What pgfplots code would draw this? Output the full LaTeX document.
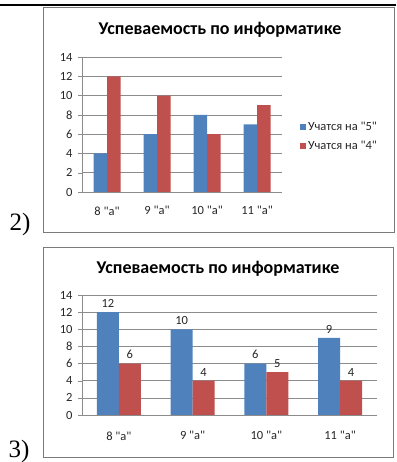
\documentclass[border=0pt]{standalone}
\usepackage{fontspec}
\setmainfont{Carlito}
\newfontfamily\calibri{Carlito}
\newfontfamily\timesfont{Liberation Serif}
\usepackage{pgfplots}
\pgfplotsset{compat=1.18}
\definecolor{xlblue}{HTML}{4F81BD}
\definecolor{xlred}{HTML}{C0504D}
\definecolor{gridc}{HTML}{8C8C8C}
\definecolor{framec}{HTML}{7A7A7A}

\pgfplotsset{xlstyle/.style={
  scale only axis,
  ymin=0, ymax=14, ytick={0,2,...,14},
  xmin=-0.5, xmax=3.5,
  xtick={0,1,2,3},
  xticklabels={{8 "а"},{9 "а"},{10 "а"},{11 "а"}},
  axis x line*=bottom, axis y line*=left,
  axis line style={gridc, -},
  ymajorgrids, grid style={gridc, line width=0.6pt},
  major x tick style={draw=none},
  extra x ticks={-0.5,0.5,1.5,2.5,3.5},
  extra x tick labels={},
  extra x tick style={grid=none, major tick style={draw=gridc}},
  tick align=outside,
  major tick length=4pt,
  ytick style={draw=gridc},
  tick label style={font=\calibri\fontsize{12.5}{14}\selectfont, text=black!85},
  /pgf/number format/assume math mode=true,
  ybar=0pt,
}}

\begin{document}
\begin{tikzpicture}
\path[use as bounding box] (0pt,0pt) rectangle (396pt,462pt);
% top rule
\draw[black, line width=2pt] (0pt,457pt) -- (396pt,457pt);
% frames
\draw[framec, line width=0.7pt] (43pt,455pt) rectangle (394pt,230pt);
\draw[framec, line width=0.7pt] (43pt,215pt) rectangle (393pt,5pt);
% labels
\node[anchor=base, font=\timesfont\fontsize{25}{28}\selectfont, inner sep=0pt] at (20pt,231pt) {2)};
\node[anchor=base, font=\timesfont\fontsize{25}{28}\selectfont, inner sep=0pt] at (19pt,5pt) {3)};
% titles
\node[font=\calibri\fontsize{18}{20}\selectfont\bfseries] at (220pt,432pt) {Успеваемость по информатике};
\node[font=\calibri\fontsize{18}{20}\selectfont\bfseries] at (218pt,193pt) {Успеваемость по информатике};

\begin{axis}[xlstyle, at={(82pt,270pt)}, anchor=south west, width=200pt, height=135pt,
  bar width=13.5pt,
  xticklabel style={yshift=-7pt},
  yticklabel style={xshift=-2pt},
  legend style={at={(1.09,0.41)}, anchor=west, draw=none, fill=none,
    font=\calibri\fontsize{12.5}{14}\selectfont, text=black!85, row sep=5pt, inner sep=0pt},
  legend cell align=left,
  legend image code/.code={\fill[#1] (0pt,-3pt) rectangle (6pt,3pt);},
]
\addplot[fill=xlblue, draw=none] coordinates {(0,4) (1,6) (2,8) (3,7)};
\addplot[fill=xlred, draw=none] coordinates {(0,12) (1,10) (2,6) (3,9)};
\legend{Учатся на "5", Учатся на "4"}
\end{axis}

\begin{axis}[xlstyle, at={(82pt,47pt)}, anchor=south west, width=295pt, height=120pt,
  bar width=22pt,
  xticklabel style={yshift=-9pt},
  yticklabel style={xshift=-2pt},
  nodes near coords,
  nodes near coords style={font=\calibri\fontsize{12.5}{14}\selectfont, text=black!85, yshift=1pt},
]
\addplot[fill=xlblue, draw=none] coordinates {(0,12) (1,10) (2,6) (3,9)};
\addplot[fill=xlred, draw=none] coordinates {(0,6) (1,4) (2,5) (3,4)};
\end{axis}
\end{tikzpicture}
\end{document}
